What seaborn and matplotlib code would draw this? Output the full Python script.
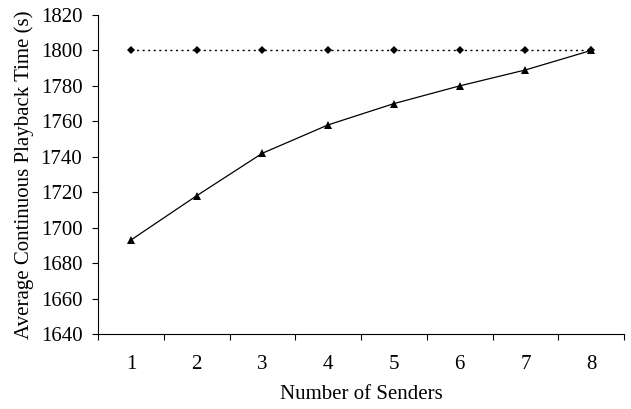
import numpy as np
import pandas as pd
import matplotlib
matplotlib.use("Agg")
import matplotlib.pyplot as plt
import seaborn as sns

senders = [1, 2, 3, 4, 5, 6, 7, 8]
ideal_time = [1800, 1800, 1800, 1800, 1800, 1800, 1800, 1800]
avg_time = [1693, 1718, 1742, 1758, 1770, 1780, 1789, 1800]
y_ticks = [1640, 1660, 1680, 1700, 1720, 1740, 1760, 1780, 1800, 1820]

sns.set_style("white")
plt.rcParams['font.family'] = ['Liberation Serif', 'DejaVu Serif']
plt.rcParams['font.size'] = 15
plt.rcParams['text.color'] = 'black'
plt.rcParams['axes.labelcolor'] = 'black'
plt.rcParams['xtick.color'] = 'black'
plt.rcParams['ytick.color'] = 'black'

df = pd.DataFrame({"pos": np.arange(len(senders)), "ideal": ideal_time, "avg": avg_time})

fig = plt.figure(figsize=(6.31, 4.09), dpi=100)
ax = fig.add_axes([0.1553, 0.1834, 0.9890 - 0.1553, 0.9633 - 0.1834])

# dotted reference line with diamonds, solid measured line with triangles
sns.lineplot(data=df, x="pos", y="ideal", ax=ax, color="black", linestyle=(0, (1.5, 2.5)),
             linewidth=1.0, marker="D", markersize=3.8, markeredgewidth=0)
sns.lineplot(data=df, x="pos", y="avg", ax=ax, color="black", linestyle="-",
             linewidth=0.9, marker="^", markersize=5.5, markeredgewidth=0)

ax.set_xlim(-0.5, len(senders) - 0.5)
ax.set_ylim(1640, 1820)
ax.set_yticks(y_ticks)
ax.set_xticks(np.arange(len(senders)))
ax.set_xticklabels([str(s) for s in senders])
ax.set_xticks(np.arange(len(senders) + 1) - 0.5, minor=True)
ax.tick_params(axis="x", which="major", bottom=True, length=0, pad=15, labelsize=15)
ax.tick_params(axis="x", which="minor", bottom=True, length=4.3, width=0.8, direction="out", color="black")
ax.tick_params(axis="y", which="major", left=True, length=4.3, width=0.8, direction="out", color="black", pad=7, labelsize=15)

for side in ["top", "right"]:
    ax.spines[side].set_visible(False)
for side in ["left", "bottom"]:
    ax.spines[side].set_color("black")
    ax.spines[side].set_linewidth(0.8)

ax.set_xlabel("Number of Senders", fontsize=15, labelpad=8)
ax.set_ylabel("Average Continuous Playback Time (s)", fontsize=15, labelpad=5)

fig.savefig("out.png", dpi=100)
